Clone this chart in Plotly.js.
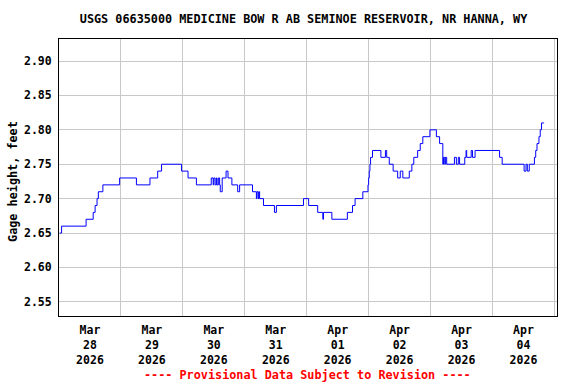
<!DOCTYPE html>
<html>
<head>
<meta charset="utf-8">
<script src="https://cdn.plot.ly/plotly-3.0.1.min.js"></script>
<style>html,body{margin:0;padding:0;background:#fff;}#chart{width:576px;height:384px;}</style>
</head>
<body>
<div id="chart"></div>
<script>
// Gage height readings (change points of a 15-minute record)
var times = [
"2026-03-28 00:15","2026-03-28 01:00","2026-03-28 10:30","2026-03-28 13:15","2026-03-28 14:00",
"2026-03-28 14:45","2026-03-28 15:15","2026-03-28 17:00","2026-03-28 23:30","2026-03-29 06:00",
"2026-03-29 11:15","2026-03-29 14:15","2026-03-29 15:45","2026-03-29 23:30","2026-03-30 02:00",
"2026-03-30 05:15","2026-03-30 11:00","2026-03-30 11:45","2026-03-30 12:00","2026-03-30 12:30",
"2026-03-30 13:00","2026-03-30 13:15","2026-03-30 13:45","2026-03-30 14:15","2026-03-30 14:30",
"2026-03-30 15:15","2026-03-30 16:45","2026-03-30 17:30","2026-03-30 19:00","2026-03-30 21:15",
"2026-03-30 22:00","2026-03-31 03:00","2026-03-31 04:30","2026-03-31 04:45","2026-03-31 05:15",
"2026-03-31 05:30","2026-03-31 05:45","2026-03-31 07:15","2026-03-31 11:30","2026-03-31 12:15",
"2026-03-31 22:45","2026-04-01 00:45","2026-04-01 04:15","2026-04-01 06:15","2026-04-01 06:30",
"2026-04-01 09:45","2026-04-01 15:45","2026-04-01 17:45","2026-04-01 18:45","2026-04-01 21:45",
"2026-04-01 23:45","2026-04-02 00:00","2026-04-02 00:15","2026-04-02 00:30","2026-04-02 00:45",
"2026-04-02 01:30","2026-04-02 04:45","2026-04-02 06:30","2026-04-02 07:00","2026-04-02 08:00",
"2026-04-02 09:30","2026-04-02 11:15","2026-04-02 12:15","2026-04-02 13:15","2026-04-02 15:45",
"2026-04-02 16:45","2026-04-02 17:30","2026-04-02 19:00","2026-04-02 20:00","2026-04-02 21:00",
"2026-04-02 23:45","2026-04-03 02:15","2026-04-03 03:30","2026-04-03 04:45","2026-04-03 05:00",
"2026-04-03 05:30","2026-04-03 05:45","2026-04-03 06:15","2026-04-03 09:15","2026-04-03 10:00",
"2026-04-03 10:45","2026-04-03 11:15","2026-04-03 13:15","2026-04-03 13:45","2026-04-03 14:00",
"2026-04-03 15:45","2026-04-03 16:15","2026-04-03 17:15","2026-04-04 02:45","2026-04-04 03:45",
"2026-04-04 12:15","2026-04-04 13:00","2026-04-04 13:30","2026-04-04 14:15","2026-04-04 16:15",
"2026-04-04 16:45","2026-04-04 17:15","2026-04-04 18:00","2026-04-04 18:30","2026-04-04 19:00",
"2026-04-04 20:00"
];
var gageHeight = [
2.65,2.66,2.67,2.68,2.69,
2.70,2.71,2.72,2.73,2.72,
2.73,2.74,2.75,2.74,2.73,
2.72,2.73,2.72,2.73,2.72,
2.73,2.72,2.73,2.72,2.71,
2.73,2.74,2.73,2.72,2.71,
2.72,2.71,2.70,2.71,2.70,
2.71,2.70,2.69,2.68,2.69,
2.70,2.69,2.68,2.67,2.68,
2.67,2.68,2.69,2.70,2.71,
2.72,2.73,2.74,2.75,2.76,
2.77,2.76,2.77,2.76,2.75,
2.74,2.73,2.74,2.73,2.74,
2.75,2.76,2.77,2.78,2.79,
2.80,2.79,2.78,2.75,2.76,
2.75,2.76,2.75,2.76,2.75,
2.76,2.75,2.76,2.77,2.76,
2.77,2.76,2.77,2.76,2.75,
2.74,2.75,2.74,2.75,2.76,
2.77,2.78,2.79,2.80,2.81,
2.81
];
var tickDates = ["2026-03-28 12:00","2026-03-29 12:00","2026-03-30 12:00","2026-03-31 12:00",
                 "2026-04-01 12:00","2026-04-02 12:00","2026-04-03 12:00","2026-04-04 12:00"];
var tickLabels = ["Mar<br>28<br>2026","Mar<br>29<br>2026","Mar<br>30<br>2026","Mar<br>31<br>2026",
                  "Apr<br>01<br>2026","Apr<br>02<br>2026","Apr<br>03<br>2026","Apr<br>04<br>2026"];
var titleText = "USGS 06635000 MEDICINE BOW R AB SEMINOE RESERVOIR, NR HANNA, WY";
var yTitle = "Gage height, feet";
var footer = "---- Provisional Data Subject to Revision ----";

var FONT = "DejaVu Sans Mono";
var trace = {
  x: times, y: gageHeight, type: "scatter", mode: "lines",
  line: {color: "#0000FF", width: 1, shape: "hv"}, hoverinfo: "skip"
};
var layout = {
  width: 576, height: 384,
  paper_bgcolor: "#ffffff", plot_bgcolor: "#ffffff",
  margin: {l: 59, r: 19, t: 39, b: 68, pad: 0},
  showlegend: false,
  font: {family: FONT, size: 11, color: "#000", weight: "bold"},
  title: {text: titleText, x: 0.527, xref: "container", y: 0.95, yref: "container",
          xanchor: "center", yanchor: "middle",
          font: {family: FONT, size: 11.8, color: "#000", weight: "bold"}},
  xaxis: {
    type: "date", range: ["2026-03-28 00:00", "2026-04-05 01:00"],
    tickmode: "array", tickvals: tickDates, ticktext: tickLabels,
    ticks: "", showgrid: false, zeroline: false,
    showline: true, mirror: true, linecolor: "#000", linewidth: 1,
    ticklabelstandoff: 3,
    tickfont: {family: FONT, size: 11.5, color: "#000", weight: "bold"},
    minor: {tick0: "2026-03-28 00:00", dtick: 86400000, showgrid: true,
            gridcolor: "#c8c8c8", gridwidth: 1, ticks: ""}
  },
  yaxis: {
    range: [2.5294, 2.932], tick0: 2.55, dtick: 0.05, tickformat: ".2f",
    ticks: "", showgrid: true, gridcolor: "#c8c8c8", gridwidth: 1, zeroline: false,
    showline: true, mirror: true, linecolor: "#000", linewidth: 1,
    ticklabelstandoff: 4,
    tickfont: {family: FONT, size: 11.5, color: "#000", weight: "bold"}
  },
  annotations: [{
    text: yTitle, xref: "paper", yref: "paper", x: 0, y: 0.484, xshift: -46,
    textangle: -90, xanchor: "center", yanchor: "middle", showarrow: false,
    font: {family: FONT, size: 11.8, color: "#000", weight: "bold"}
  }, {
    text: footer, xref: "paper", yref: "paper", x: 0.498, y: -0.213,
    xanchor: "center", yanchor: "middle", showarrow: false,
    font: {family: FONT, size: 11.8, color: "#FF0000", weight: "bold"}
  }]
};
Plotly.newPlot("chart", [trace], layout, {staticPlot: true, displayModeBar: false});
</script>
</body>
</html>
